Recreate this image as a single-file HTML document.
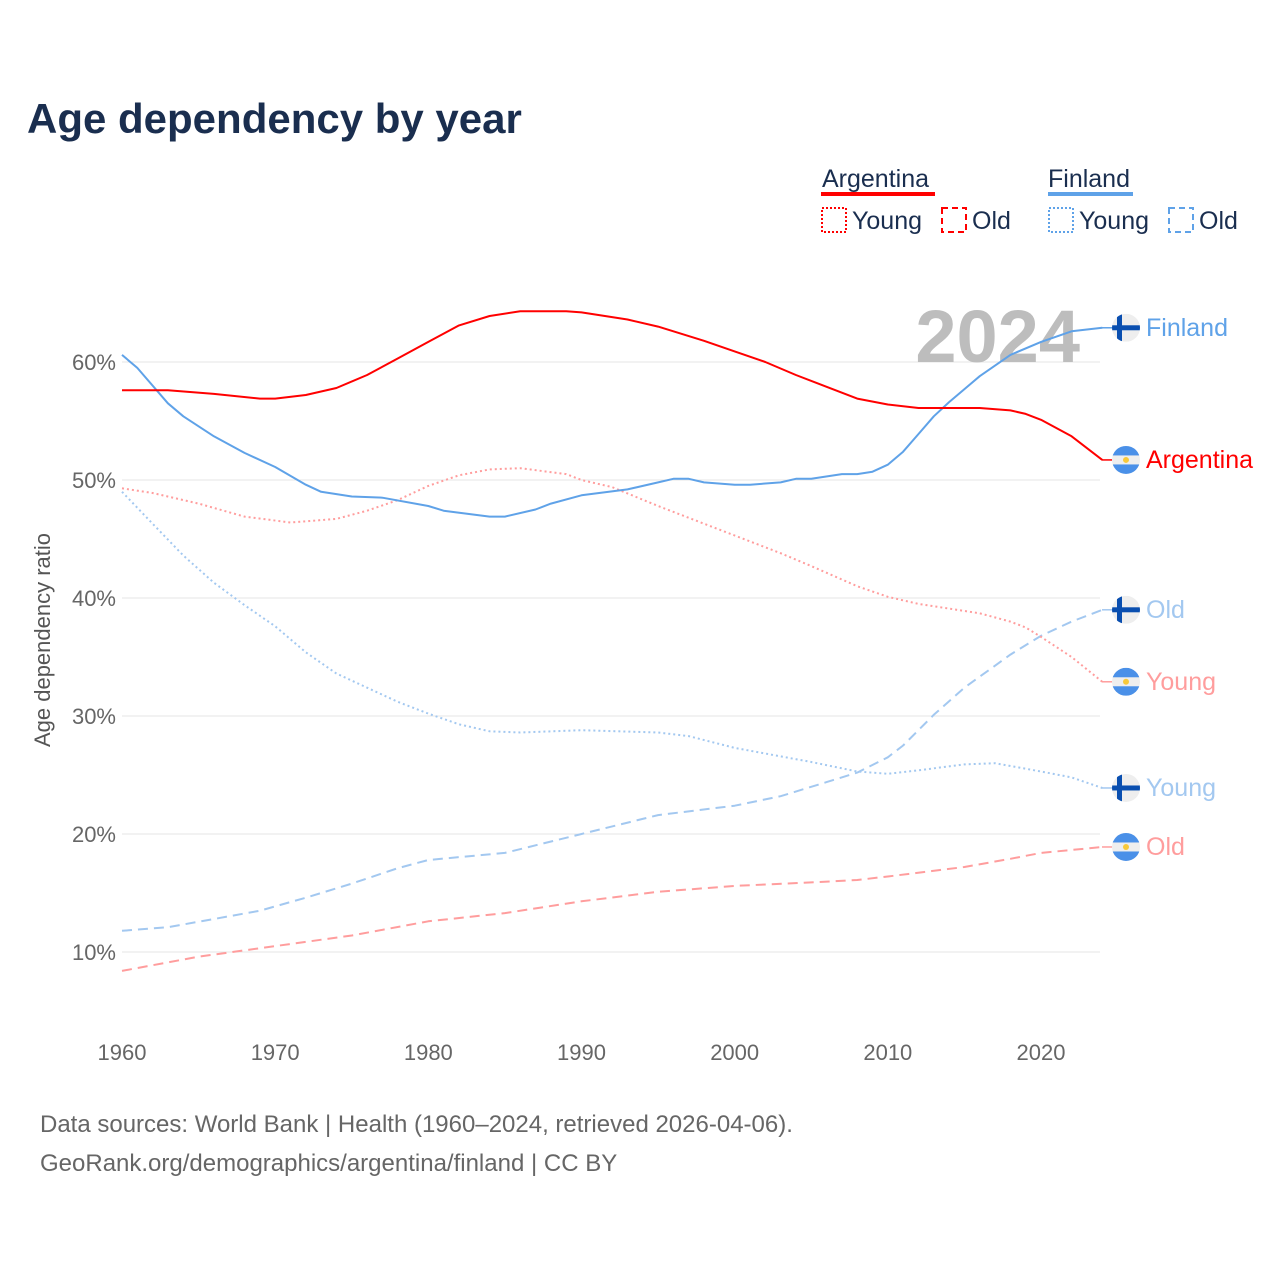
<!DOCTYPE html>
<html><head><meta charset="utf-8"><style>
body{margin:0;background:#fff;font-family:"Liberation Sans",sans-serif}
svg text{font-family:"Liberation Sans",sans-serif}
</style></head><body>
<svg id="chart" width="1280" height="1280" viewBox="0 0 1280 1280">
<text x="27" y="133" font-size="42" font-weight="bold" fill="#1a2e4f">Age dependency by year</text>
<g>
<text x="822" y="187" font-size="25" fill="#1a2e4f">Argentina</text>
<rect x="821" y="192" width="114" height="4" fill="#ff0000"/>
<rect x="822" y="208" width="24" height="24" fill="none" stroke="#ff0000" stroke-width="2" stroke-dasharray="2,2"/>
<text x="852" y="229" font-size="25" fill="#1a2e4f">Young</text>
<rect x="942" y="208" width="24" height="24" fill="none" stroke="#ff0000" stroke-width="2" stroke-dasharray="6,4"/>
<text x="972" y="229" font-size="25" fill="#1a2e4f">Old</text>
<text x="1048" y="187" font-size="25" fill="#1a2e4f">Finland</text>
<rect x="1048" y="192" width="85" height="4" fill="#5fa2e8"/>
<rect x="1049" y="208" width="24" height="24" fill="none" stroke="#5fa2e8" stroke-width="2" stroke-dasharray="2,2"/>
<text x="1079" y="229" font-size="25" fill="#1a2e4f">Young</text>
<rect x="1169" y="208" width="24" height="24" fill="none" stroke="#5fa2e8" stroke-width="2" stroke-dasharray="6,4"/>
<text x="1199" y="229" font-size="25" fill="#1a2e4f">Old</text>
</g>
<g id="grid"></g>
<text x="1080" y="362" font-size="74" font-weight="bold" fill="#bdbdbd" text-anchor="end">2024</text>
<g id="series"></g>
<g id="labels"></g>
<text transform="translate(50,640) rotate(-90)" font-size="22" fill="#555" text-anchor="middle">Age dependency ratio</text>
<text x="40" y="1132" font-size="24" fill="#666">Data sources: World Bank | Health (1960–2024, retrieved 2026-04-06).</text>
<text x="40" y="1171" font-size="24" fill="#666">GeoRank.org/demographics/argentina/finland | CC BY</text>
</svg>
<script>
const yTicks=[10,20,30,40,50,60];
const xTicks=[1960,1970,1980,1990,2000,2010,2020];
const argTotYears=[1960,1963,1966,1969,1970,1972,1974,1976,1978,1980,1982,1984,1986,1989,1990,1993,1995,1998,2000,2002,2004,2006,2008,2010,2012,2014,2016,2018,2019,2020,2022,2024];
const argTotVals=[57.6,57.6,57.3,56.9,56.9,57.2,57.8,58.9,60.3,61.7,63.1,63.9,64.3,64.3,64.2,63.6,63.0,61.8,60.9,60.0,58.9,57.9,56.9,56.4,56.1,56.1,56.1,55.9,55.6,55.1,53.7,51.7];
const finTotYears=[1960,1961,1963,1964,1966,1968,1970,1972,1973,1975,1977,1980,1981,1984,1985,1987,1988,1990,1993,1995,1996,1997,1998,2000,2001,2003,2004,2005,2007,2008,2009,2010,2011,2012,2013,2014,2016,2018,2020,2022,2024];
const finTotVals=[60.6,59.5,56.5,55.4,53.7,52.3,51.1,49.6,49.0,48.6,48.5,47.8,47.4,46.9,46.9,47.5,48.0,48.7,49.2,49.8,50.1,50.1,49.8,49.6,49.6,49.8,50.1,50.1,50.5,50.5,50.7,51.3,52.4,53.9,55.4,56.6,58.8,60.6,61.7,62.6,62.9];
const argYoungYears=[1960,1962,1965,1968,1971,1974,1976,1978,1980,1982,1984,1986,1989,1990,1992,1995,1998,2000,2003,2005,2008,2010,2012,2014,2016,2018,2019,2020,2022,2024];
const argYoungVals=[49.3,48.9,48.0,46.9,46.4,46.7,47.4,48.3,49.5,50.4,50.9,51.0,50.5,50.0,49.4,47.8,46.3,45.3,43.8,42.7,41.0,40.1,39.5,39.1,38.7,38.0,37.5,36.7,35.0,32.9];
const argOldYears=[1960,1965,1970,1975,1980,1985,1990,1995,2000,2005,2008,2010,2015,2018,2020,2024];
const argOldVals=[8.4,9.6,10.5,11.4,12.6,13.3,14.3,15.1,15.6,15.9,16.1,16.4,17.2,17.9,18.4,18.9];
const finYoungYears=[1960,1962,1964,1966,1968,1970,1972,1974,1976,1978,1980,1982,1984,1986,1990,1995,1997,2000,2005,2008,2010,2012,2015,2017,2020,2022,2024];
const finYoungVals=[49.0,46.3,43.6,41.3,39.4,37.6,35.4,33.6,32.4,31.2,30.2,29.3,28.7,28.6,28.8,28.6,28.3,27.3,26.1,25.3,25.1,25.4,25.9,26.0,25.3,24.8,23.9];
const finOldYears=[1960,1963,1966,1969,1972,1975,1978,1980,1985,1990,1995,2000,2003,2006,2008,2010,2011,2013,2015,2018,2020,2022,2024];
const finOldVals=[11.8,12.1,12.8,13.5,14.6,15.8,17.1,17.8,18.4,20.0,21.6,22.4,23.2,24.4,25.2,26.5,27.5,30.1,32.4,35.2,36.8,38.0,39.0];

const NS="http://www.w3.org/2000/svg";
const xS=y=>122+(y-1960)*919/60;
const yS=v=>1070-v*11.8;
function mk(tag,attrs,parent){const e=document.createElementNS(NS,tag);for(const k in attrs)e.setAttribute(k,attrs[k]);parent.appendChild(e);return e;}
const grid=document.getElementById('grid');
yTicks.forEach(t=>{
  const l=mk('line',{x1:122,x2:1100,y1:yS(t),y2:yS(t),stroke:'#e6e6e6','stroke-width':1},grid);
  
  
  const tx=mk('text',{x:116,y:yS(t)+8,'font-size':22,fill:'#666','text-anchor':'end'},grid);
  tx.textContent=t+'%';
  
  
});
xTicks.forEach(t=>{
  const tx=mk('text',{x:xS(t),y:1060,'font-size':22,fill:'#666','text-anchor':'middle'},grid);
  tx.textContent=t;
  
  
});
const ser=document.getElementById('series');
function line(ys,vs,color,dash,name){
  const d=ys.map((y,i)=>(i?'L':'M')+xS(y).toFixed(1)+','+yS(vs[i]).toFixed(1)).join('');
  const p=mk('path',{d:d,fill:'none',stroke:color,'stroke-width':2,'stroke-dasharray':dash,'stroke-linejoin':'round'},ser);
  
  
}
line(finOldYears,finOldVals,'#a3c8f0','10,6','finland-old-line');
line(argOldYears,argOldVals,'#ff9d9d','10,6','argentina-old-line');
line(finYoungYears,finYoungVals,'#a3c8f0','2,3','finland-young-line');
line(argYoungYears,argYoungVals,'#ff9d9d','2,3','argentina-young-line');
line(finTotYears,finTotVals,'#5fa2e8','','finland-total-line');
line(argTotYears,argTotVals,'#ff0000','','argentina-total-line');
const lab=document.getElementById('labels');
let fid=0;
function flag(cy,fin,text,color,name){
  const g=mk('g',{},lab);
  
  
  mk('line',{x1:1102,x2:1112,y1:cy,y2:cy,stroke:color,'stroke-width':1.5},g);
  const id='fc'+(fid++);
  const cp=mk('clipPath',{id:id},g);
  mk('circle',{cx:1126,cy:cy,r:14},cp);
  const f=mk('g',{'clip-path':'url(#'+id+')'},g);
  mk('rect',{x:1112,y:cy-14,width:28,height:28,fill:'#eeeeee'},f);
  if(fin){
    mk('rect',{x:1112,y:cy-2.5,width:28,height:5,fill:'#0a4fb0'},f);
    mk('rect',{x:1117,y:cy-14,width:5,height:28,fill:'#0a4fb0'},f);
  }else{
    mk('rect',{x:1112,y:cy-14,width:28,height:9.5,fill:'#4a90e8'},f);
    mk('rect',{x:1112,y:cy+4.5,width:28,height:9.5,fill:'#4a90e8'},f);
    mk('circle',{cx:1126,cy:cy,r:3,fill:'#f8c93a'},f);
  }
  const t=mk('text',{x:1146,y:cy+8,'font-size':25,fill:color},g);
  t.textContent=text;
}
flag(yS(finTotVals[finTotVals.length-1]),true,'Finland','#5fa2e8','finland-end-label');
flag(yS(argTotVals[argTotVals.length-1]),false,'Argentina','#ff0000','argentina-end-label');
flag(yS(finOldVals[finOldVals.length-1]),true,'Old','#a3c8f0','finland-old-end-label');
flag(yS(argYoungVals[argYoungVals.length-1]),false,'Young','#ff9d9d','argentina-young-end-label');
flag(yS(finYoungVals[finYoungVals.length-1]),true,'Young','#a3c8f0','finland-young-end-label');
flag(yS(argOldVals[argOldVals.length-1]),false,'Old','#ff9d9d','argentina-old-end-label');
</script>
</body></html>
